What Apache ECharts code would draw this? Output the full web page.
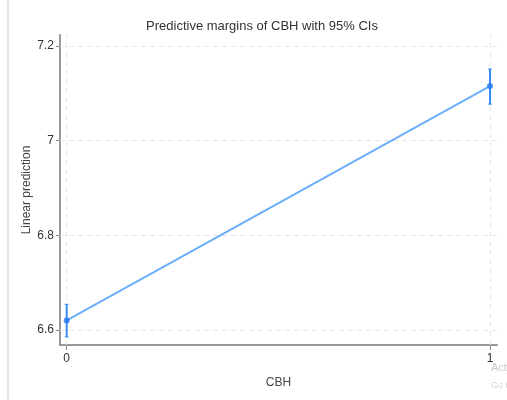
<!DOCTYPE html>
<html><head><meta charset="utf-8">
<script src="https://cdn.jsdelivr.net/npm/echarts@6/dist/echarts.min.js"></script>
<style>html,body{margin:0;padding:0;background:#fff}#c{width:507px;height:400px}</style>
</head><body><div id="c"></div>
<script>
var cbh = [0, 1];
var margins = [6.62, 7.115];
var ciLow = [6.585, 7.077];
var ciHigh = [6.654, 7.151];
var yTicks = [6.6, 6.8, 7, 7.2];
var xTicks = [0, 1];
var yTitle = 'Linear prediction';

var chart = echarts.init(document.getElementById('c'));
var font = '"Liberation Sans Narrow","Liberation Sans",Arial,sans-serif';
var lineData = cbh.map(function(x,i){return [x, margins[i]];});
var ciData = cbh.map(function(x,i){return [x, ciLow[i], ciHigh[i]];});

chart.setOption({
  animation:false,
  title:{text:'Predictive margins of CBH with 95% CIs',left:257,top:15,textAlign:'center',
    textStyle:{fontFamily:font,fontSize:13,fontWeight:'normal',color:'#333'}},
  grid:{left:60,right:10,top:35,bottom:55},
  graphic:[
    {type:'line',shape:{x1:8,y1:0,x2:8,y2:400},style:{stroke:'#ccc',lineWidth:1}},
    {type:'text',x:27,y:190,rotation:Math.PI/2,
      style:{text:yTitle,fill:'#444',font:'12px '+font,textAlign:'center',textVerticalAlign:'middle'}},
    {type:'text',left:491,top:362,style:{text:'Act',fill:'#c8c8c8',font:'11px '+font}},
    {type:'text',left:491,top:381,style:{text:'Go t',fill:'#d5d5d5',font:'9px '+font}}
  ],
  xAxis:{type:'value',min:-0.0158,max:1.0165,
    name:'CBH',nameLocation:'middle',nameGap:32,
    nameTextStyle:{fontFamily:font,fontSize:12,color:'#444'},
    axisLine:{show:true,onZero:false,lineStyle:{color:'#999',width:2}},
    axisTick:{show:true,customValues:xTicks,length:5,lineStyle:{color:'#888'}},
    axisLabel:{customValues:xTicks,fontFamily:font,fontSize:12,color:'#333',margin:8},
    splitLine:{show:false}},
  yAxis:{type:'value',min:6.568,max:7.223,
    axisLine:{show:true,onZero:false,lineStyle:{color:'#999',width:2}},
    axisTick:{show:true,customValues:yTicks,length:4,lineStyle:{color:'#888'}},
    axisLabel:{customValues:yTicks,fontFamily:font,fontSize:12,color:'#333',margin:6},
    splitLine:{show:false}},
  series:[
    {type:'line',data:lineData,symbol:'none',silent:true,
      lineStyle:{color:'#6aaefc',width:2},z:3,
      markLine:{silent:true,symbol:'none',label:{show:false},z:1,
        lineStyle:{color:'#e6e6e6',type:[5,4],width:1},
        data:yTicks.map(function(v){return {yAxis:v};}).concat(xTicks.map(function(v){return {xAxis:v};}))}},
    {type:'custom',data:ciData,z:10,
      renderItem:function(params,api){
        var x=api.value(0);
        var lo=api.coord([x,api.value(1)]);
        var hi=api.coord([x,api.value(2)]);
        var c=2;
        return {type:'group',children:[
          {type:'line',shape:{x1:lo[0],y1:lo[1],x2:hi[0],y2:hi[1]},style:{stroke:'#3a8cf5',lineWidth:2,lineDash:null}},
          {type:'line',shape:{x1:lo[0]-c,y1:lo[1],x2:lo[0]+c,y2:lo[1]},style:{stroke:'#3a8cf5',lineWidth:1}},
          {type:'line',shape:{x1:hi[0]-c,y1:hi[1],x2:hi[0]+c,y2:hi[1]},style:{stroke:'#3a8cf5',lineWidth:1}}
        ]};
      }},
    {type:'scatter',data:lineData,symbolSize:6,itemStyle:{color:'#1f78f0'},z:11}
  ]
});
</script></body></html>
